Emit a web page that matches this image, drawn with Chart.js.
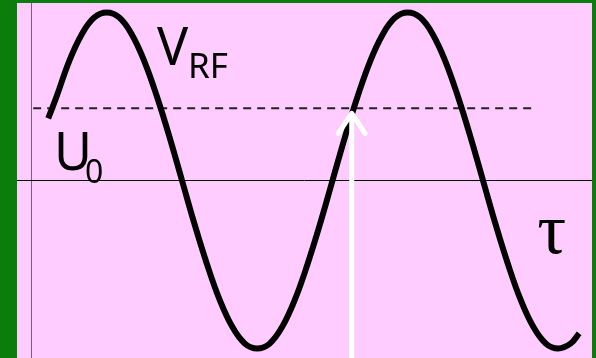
<!DOCTYPE html>
<html>
<head>
<meta charset="utf-8">
<script src="https://cdn.jsdelivr.net/npm/chart.js@4/dist/chart.umd.min.js"></script>
<style>
  html, body { margin: 0; padding: 0; }
  body { width: 596px; height: 358px; background: #0b7d0b; overflow: hidden; }
  #wrap { position: absolute; left: 17px; top: 3px; width: 575px; height: 355px; background: #ffccff; }
</style>
</head>
<body>
<div id="wrap"><canvas id="myChart"></canvas></div>
<script>
"use strict";

// phase (deg) and RF voltage (relative)
const tau = [20, 30, 45, 60, 75, 90, 105, 120, 135, 150, 165, 180, 195, 210, 225, 240, 255, 270,
  285, 300, 315, 330, 345, 360, 375, 390, 405, 420, 435, 450, 465, 480, 495, 510, 525, 540,
  555, 570, 585, 600, 615, 630, 645, 655];
const vrf = [0.37, 0.5, 0.71, 0.87, 0.97, 1, 0.97, 0.87, 0.71, 0.5, 0.26, 0, -0.26, -0.5, -0.71, -0.87, -0.97, -1,
  -0.97, -0.87, -0.71, -0.5, -0.26, 0, 0.26, 0.5, 0.71, 0.87, 0.97, 1, 0.97, 0.87, 0.71, 0.5, 0.26, 0,
  -0.26, -0.5, -0.71, -0.87, -0.97, -1, -0.97, -0.91];

// DC level U0
const u0 = 0.43;
const u0Span = [2, 598];

// white arrow (phase where it hits U0)
const arrowTau = 383;
const arrowTip = 0.40;
const arrowHeadTau = [367, 383, 399];
const arrowHeadV = [0.28, 0.40, 0.28];

// axis range
const tauRange = [-17.34, 670.36];
const vRange = [-1.057, 1.057];

function pts(xs, ys) {
  return xs.map((x, i) => ({ x: x, y: ys[i] }));
}

// labels V_RF, U_0, tau
const textPlugin = {
  id: 'labels',
  afterDatasetsDraw(chart) {
    const ctx = chart.ctx;
    const xs = chart.scales.x, ys = chart.scales.y;
    ctx.save();
    ctx.fillStyle = '#000';
    ctx.textBaseline = 'alphabetic';
    ctx.textAlign = 'left';
    let px = xs.getPixelForValue(150), py = ys.getPixelForValue(0.685);
    ctx.font = '52px "Noto Sans"';
    ctx.fillText('V', px, py);
    ctx.font = '35px "Noto Sans"';
    ctx.fillText('RF', px + 31, py + 13);
    px = xs.getPixelForValue(27); py = ys.getPixelForValue(0.06);
    ctx.font = '52px "Noto Sans"';
    ctx.fillText('U', px, py);
    ctx.font = '32px "Noto Sans"';
    ctx.fillText('0', px + 31, py + 13);
    px = xs.getPixelForValue(605); py = ys.getPixelForValue(-0.43);
    ctx.font = '72px "Liberation Serif"';
    ctx.fillText('τ', px, py);
    ctx.restore();
  }
};

const data = {
  datasets: [{
    label: 'axis x',
    data: pts(tauRange, [0, 0]),
    borderColor: '#000',
    borderWidth: 1,
    order: 5
  }, {
    label: 'axis y',
    data: pts([0, 0], vRange),
    borderColor: '#7a5f7a',
    borderWidth: 1,
    order: 5
  }, {
    label: 'U0',
    data: pts(u0Span, [u0, u0]),
    borderColor: '#222',
    borderWidth: 2,
    borderDash: [8, 6],
    order: 4
  }, {
    label: 'VRF',
    data: pts(tau, vrf),
    borderColor: '#000',
    borderWidth: 6,
    tension: 0.4,
    borderCapStyle: 'butt',
    order: 3
  }, {
    label: 'arrow',
    data: pts([arrowTau, arrowTau], [vRange[0] - 0.05, arrowTip - 0.02]),
    borderColor: '#fff',
    borderWidth: 5,
    order: 1
  }, {
    label: 'arrow head',
    data: pts(arrowHeadTau, arrowHeadV),
    borderColor: '#fff',
    borderWidth: 5,
    borderCapStyle: 'round',
    borderJoinStyle: 'round',
    order: 1
  }]
};

const config = {
  type: 'line',
  data,
  options: {
    responsive: false,
    animation: false,
    layout: { padding: 0 },
    elements: { point: { radius: 0, hoverRadius: 0 } },
    plugins: { legend: { display: false }, tooltip: { enabled: false } },
    scales: {
      x: { type: 'linear', display: false, min: tauRange[0], max: tauRange[1] },
      y: { type: 'linear', display: false, min: vRange[0], max: vRange[1] }
    }
  },
  plugins: [textPlugin]
};

const cv = document.getElementById('myChart');
cv.width = 575;
cv.height = 355;
const myChart = new Chart(cv, config);
</script>
</body>
</html>
